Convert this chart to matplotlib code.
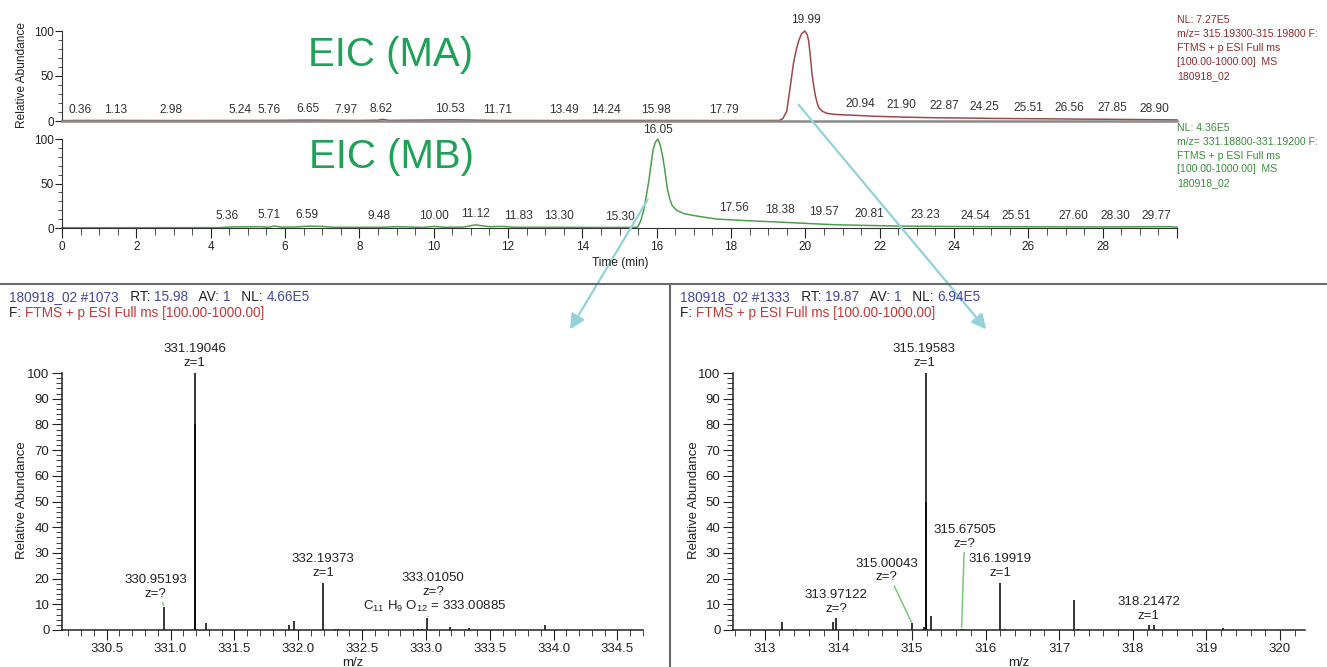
import numpy as np
import matplotlib
matplotlib.use('Agg')
import matplotlib.pyplot as plt
from matplotlib.ticker import MultipleLocator
from matplotlib.patches import ConnectionPatch

plt.rcParams['font.family'] = ['Liberation Sans', 'DejaVu Sans']
plt.rcParams['mathtext.fontset'] = 'custom'
plt.rcParams['mathtext.rm'] = 'Liberation Sans'
plt.rcParams['mathtext.it'] = 'Liberation Sans:italic'

# EIC of MA (m/z 315.193-315.198), time in min, relative abundance
ma_time = [0.0, 0.36, 1.13, 2.98, 5.24, 5.76, 6.65, 7.97, 8.5, 8.62, 8.8, 10.53, 11.71,
           13.49, 14.24, 15.98, 17.79, 19.30, 19.40, 19.50, 19.60, 19.68, 19.76, 19.82,
           19.90, 19.99, 20.05, 20.09, 20.14, 20.18, 20.23, 20.27, 20.32, 20.36, 20.45,
           20.58, 20.75, 20.94, 21.4, 21.9, 22.4, 22.87, 23.5, 24.25, 25.0, 25.51, 26.56,
           27.3, 27.85, 28.5, 28.9, 29.5, 30.0]
ma_abund = [0.4, 0.6, 0.6, 0.5, 0.6, 0.7, 1.0, 0.6, 0.9, 1.8, 0.7, 1.3, 0.6,
            0.5, 0.7, 0.6, 0.5, 0.6, 3, 11, 40, 64, 80, 89,
            97, 100, 96, 89, 70, 52, 38, 28, 20, 15, 11,
            8.5, 7.5, 7.0, 6.2, 5.2, 4.6, 4.1, 3.6, 3.3, 2.9, 2.7, 2.4,
            2.1, 2.0, 1.8, 1.6, 1.4, 1.2]
ma_peak_rt = [0.36, 1.13, 2.98, 5.24, 5.76, 6.65, 7.97, 8.62, 10.53, 11.71, 13.49, 14.24,
              15.98, 17.79, 19.99, 20.94, 21.90, 22.87, 24.25, 25.51, 26.56, 27.85, 28.90]
ma_label_dx = [5, 12, -2, -17, -7, -1, -12, -1, -3, 0, 1, 15,
               0, 1, 1, 20, 25, 32, 21, 18, 20, 15, 18]

# EIC of MB (m/z 331.188-331.192)
mb_time = [0.0, 4.2, 4.6, 5.36, 5.55, 5.71, 5.9, 6.3, 6.59, 7.0, 7.3, 8.6, 9.0, 9.48, 9.7,
           10.0, 10.3, 10.8, 11.12, 11.5, 11.83, 12.2, 13.30, 14.5, 15.30, 15.49, 15.57,
           15.65, 15.72, 15.79, 15.85, 15.90, 15.96, 16.03, 16.09, 16.15, 16.22, 16.28,
           16.35, 16.42, 16.55, 16.75, 17.0, 17.3, 17.63, 18.1, 18.53, 19.0, 19.42, 20.1,
           20.77, 21.5, 22.5, 23.5, 25.0, 26.5, 28.0, 29.77, 30.0]
mb_abund = [0.3, 0.4, 1.2, 1.5, 0.8, 2.2, 1.0, 1.2, 2.0, 1.8, 0.8, 0.8, 1.5, 1.0, 0.6,
            1.8, 0.8, 1.0, 3.5, 1.5, 1.8, 0.8, 0.8, 0.6, 0.7, 1.0, 8,
            19.5, 36, 53, 72, 87, 96, 100, 94, 83, 65, 46,
            33, 25, 19.5, 16, 14, 12, 10, 9, 8, 7.2, 6.4, 5,
            3.7, 3.0, 2.2, 1.8, 1.5, 1.3, 1.2, 1.5, 1.0]
mb_peak_rt = [5.36, 5.71, 6.59, 9.48, 10.00, 11.12, 11.83, 13.30, 15.30, 16.05, 17.56,
              18.38, 19.57, 20.81, 23.23, 24.54, 25.51, 27.60, 28.30, 29.77]
mb_label_dx = [-34, -5, 0, -35, 0, 0, 17, 3, -11, -1, 19, 35, 35, 34, 0, 1, 6, -14, 1, -12]

# spectrum at RT 15.98 (scan #1073)
left_mz = [330.95193, 331.19046, 331.193, 331.28, 331.93, 331.97, 332.19373, 332.285,
           332.315, 332.94, 332.97, 333.01050, 333.185, 333.34, 333.93]
left_int = [9.0, 100, 80, 2.7, 2.0, 3.4, 18.4, 0.5, 0.5, 0.4, 0.5, 4.7, 1.1, 0.7, 2.1]

# spectrum at RT 19.87 (scan #1333)
right_mz = [313.24, 313.93, 313.97122, 314.24, 315.00043, 315.17, 315.19583, 315.198,
            315.26, 315.67505, 316.19919, 316.26, 317.20, 317.25, 318.21472, 318.29, 319.22]
right_int = [3.2, 3.2, 4.7, 0.5, 2.6, 1.2, 100, 50, 5.4, 0.5, 18.4, 0.4, 11.5, 0.4, 2.1, 1.8, 0.8]

W, H = 1327, 667
fig = plt.figure(figsize=(W / 100, H / 100), dpi=100)
fig.patch.set_facecolor('white')


def box(x0, y0, x1, y1):
    # pixel box (top-left origin) -> axes
    return fig.add_axes([x0 / W, 1 - y1 / H, (x1 - x0) / W, (y1 - y0) / H])


ma_col = '#a04848'
mb_col = '#4e9e4e'
txt = '#222222'
eic_green = '#20a157'

# ---- chromatograms ----
ax_ma = box(62, 31, 1177, 121)
ax_mb = box(62, 139, 1177, 228)
for ax in (ax_ma, ax_mb):
    ax.set_xlim(0, 30)
    ax.set_ylim(0, 100)
    for s in ('top', 'right'):
        ax.spines[s].set_visible(False)
    ax.spines['left'].set_color('#333333')
    ax.set_yticks([0, 50, 100])
    ax.yaxis.set_minor_locator(MultipleLocator(10))
    ax.tick_params(axis='y', which='major', length=5, labelsize=8.5, pad=1, colors=txt)
    ax.tick_params(axis='y', which='minor', length=3, colors='#333333')
    ax.patch.set_alpha(0)

ax_ma.spines['bottom'].set_color('#8a8a8a')
ax_ma.spines['bottom'].set_linewidth(1.8)
ax_ma.set_xticks([])
ax_mb.spines['bottom'].set_color('#333333')
ax_mb.xaxis.set_major_locator(MultipleLocator(2))
ax_mb.xaxis.set_minor_locator(MultipleLocator(0.5))
ax_mb.tick_params(axis='x', which='major', length=7, labelsize=8.5, colors=txt, pad=2)
ax_mb.tick_params(axis='x', which='minor', length=5, colors='#333333')
ax_mb.set_xticklabels([str(int(v)) if v < 30 else '' for v in ax_mb.get_xticks()])

ax_ma.plot(ma_time, ma_abund, color=ma_col, lw=1.1, clip_on=False)
ax_mb.plot(mb_time, mb_abund, color=mb_col, lw=1.1, clip_on=False)

for ax, rts, dxs, t, a in ((ax_ma, ma_peak_rt, ma_label_dx, ma_time, ma_abund),
                           (ax_mb, mb_peak_rt, mb_label_dx, mb_time, mb_abund)):
    for rt, dx in zip(rts, dxs):
        y = np.interp(rt, t, a)
        ax.annotate(f'{rt:.2f}', xy=(rt, y), xytext=(dx * 0.72, 3.5),
                    textcoords='offset points', ha='center', va='bottom',
                    fontsize=8.6, color='#333333', annotation_clip=False)

fig.text(391 / W, 1 - 55 / H, 'EIC (MA)', fontsize=29, color=eic_green,
         ha='center', va='center')
fig.text(391 / W, 1 - 157 / H, 'EIC (MB)', fontsize=29, color=eic_green,
         ha='center', va='center')
fig.text(22 / W, 1 - 75 / H, 'Relative Abundance', rotation=90, fontsize=8.6,
         color=txt, ha='center', va='center')
fig.text(620 / W, 1 - 263 / H, 'Time (min)', fontsize=8.6, color=txt,
         ha='center', va='center')

ma_info = ['NL: 7.27E5', 'm/z= 315.19300-315.19800 F:', 'FTMS + p ESI Full ms',
           '[100.00-1000.00]  MS', '180918_02']
mb_info = ['NL: 4.36E5', 'm/z= 331.18800-331.19200 F:', 'FTMS + p ESI Full ms',
           '[100.00-1000.00]  MS', '180918_02']
for i, s in enumerate(ma_info):
    fig.text(1177 / W, 1 - (20 + 14 * i) / H, s, fontsize=7.6, color='#8c2c2c',
             ha='left', va='center')
for i, s in enumerate(mb_info):
    fig.text(1177 / W, 1 - (128 + 13.8 * i) / H, s, fontsize=7.6, color='#3c8c3c',
             ha='left', va='center')

# separators
fig.add_artist(plt.Line2D([0, 1], [1 - 284 / H, 1 - 284 / H], color='#6a6a6a', lw=1.5))
fig.add_artist(plt.Line2D([670 / W, 670 / W], [0, 1 - 284 / H], color='#6a6a6a', lw=1.5))

# ---- spectra ----
ax_l = box(62, 373, 643, 630)
ax_r = box(733, 373, 1305, 630)
ax_l.set_xlim(330.15, 334.7)
ax_r.set_xlim(312.57, 320.34)
ax_l.xaxis.set_major_locator(MultipleLocator(0.5))
ax_l.xaxis.set_minor_locator(MultipleLocator(0.1))
ax_l.xaxis.set_major_formatter('{x:.1f}')
ax_r.xaxis.set_major_locator(MultipleLocator(1))
ax_r.xaxis.set_minor_locator(MultipleLocator(0.2))
for ax in (ax_l, ax_r):
    ax.set_ylim(0, 100)
    for s in ('top', 'right'):
        ax.spines[s].set_visible(False)
    for s in ('left', 'bottom'):
        ax.spines[s].set_color('#222222')
        ax.spines[s].set_linewidth(1.1)
    ax.yaxis.set_major_locator(MultipleLocator(10))
    ax.yaxis.set_minor_locator(MultipleLocator(2))
    ax.tick_params(which='major', length=7, labelsize=9.5, colors=txt, pad=2)
    ax.tick_params(which='minor', length=4, colors='#222222')
    ax.set_xlabel('m/z', fontsize=9.5, color=txt, labelpad=2)
    ax.patch.set_alpha(0)

ax_l.vlines(left_mz, 0, left_int, color='black', lw=1.1)
ax_r.vlines(right_mz, 0, right_int, color='black', lw=1.1)

fig.text(22 / W, 1 - 500 / H, 'Relative Abundance', rotation=90, fontsize=9.5,
         color=txt, ha='center', va='center')
fig.text(694 / W, 1 - 500 / H, 'Relative Abundance', rotation=90, fontsize=9.5,
         color=txt, ha='center', va='center')

leader = dict(arrowstyle='-', color='#7cc77c', lw=1.1, shrinkA=0, shrinkB=1)


def peak_label(ax, mzs, ints, mz, text, dx, dy, with_leader=False, size=9.5):
    y = ints[mzs.index(mz)]
    ax.annotate(text, xy=(mz, y), xytext=(dx * 0.72, dy * 0.72),
                textcoords='offset points', ha='center', va='bottom',
                fontsize=size, color=txt, linespacing=1.2, annotation_clip=False,
                arrowprops=leader if with_leader else None)


peak_label(ax_l, left_mz, left_int, 330.95193, '330.95193\nz=?', -9, 7, True)
peak_label(ax_l, left_mz, left_int, 331.19046, '331.19046\nz=1', 0, 4)
peak_label(ax_l, left_mz, left_int, 332.19373, '332.19373\nz=1', 0, 4)
peak_label(ax_l, left_mz, left_int, 333.01050, '333.01050\nz=?', 6, 20)
peak_label(ax_l, left_mz, left_int, 333.01050,
           r'C$_{11}$ H$_{9}$ O$_{12}$ = 333.00885', 7, 4, True)

peak_label(ax_r, right_mz, right_int, 313.97122, '313.97122\nz=?', 0, 3)
peak_label(ax_r, right_mz, right_int, 315.00043, '315.00043\nz=?', -25, 40, True)
peak_label(ax_r, right_mz, right_int, 315.19583, '315.19583\nz=1', -2, 4)
peak_label(ax_r, right_mz, right_int, 315.67505, '315.67505\nz=?', 3, 79, True)
peak_label(ax_r, right_mz, right_int, 316.19919, '316.19919\nz=1', 0, 4)
peak_label(ax_r, right_mz, right_int, 318.21472, '318.21472\nz=1', 0, 3)

# scan headers with mixed colours
blue = '#4646a0'
red = '#c23a3a'
renderer = fig.canvas.get_renderer()


def header_line(x, y, parts, size=9.8):
    for s, c in parts:
        t = fig.text(x / W, 1 - y / H, s, color=c, fontsize=size, ha='left', va='center')
        x += t.get_window_extent(renderer=renderer).width


header_line(9, 297, [('180918_02 #1073', blue), ('   RT: ', txt), ('15.98', blue),
                     ('   AV: ', txt), ('1', blue), ('   NL: ', txt), ('4.66E5', blue)])
header_line(9, 313, [('F: ', txt), ('FTMS + p ESI Full ms [100.00-1000.00]', red)])
header_line(680, 297, [('180918_02 #1333', blue), ('   RT: ', txt), ('19.87', blue),
                       ('   AV: ', txt), ('1', blue), ('   NL: ', txt), ('6.94E5', blue)])
header_line(680, 313, [('F: ', txt), ('FTMS + p ESI Full ms [100.00-1000.00]', red)])

# arrows from chromatogram peaks to their spectra
arrow_col = '#93d2d8'
for xyA, axA, xyB, axB in (((15.76, 32), ax_mb, (334.13, 117), ax_l),
                           ((19.82, 18), ax_ma, (316.01, 117), ax_r)):
    con = ConnectionPatch(xyA=xyA, coordsA=axA.transData, xyB=xyB, coordsB=axB.transData,
                          arrowstyle='-|>', color=arrow_col, lw=1.6, mutation_scale=22)
    fig.add_artist(con)

fig.savefig('out.png', dpi=100)
